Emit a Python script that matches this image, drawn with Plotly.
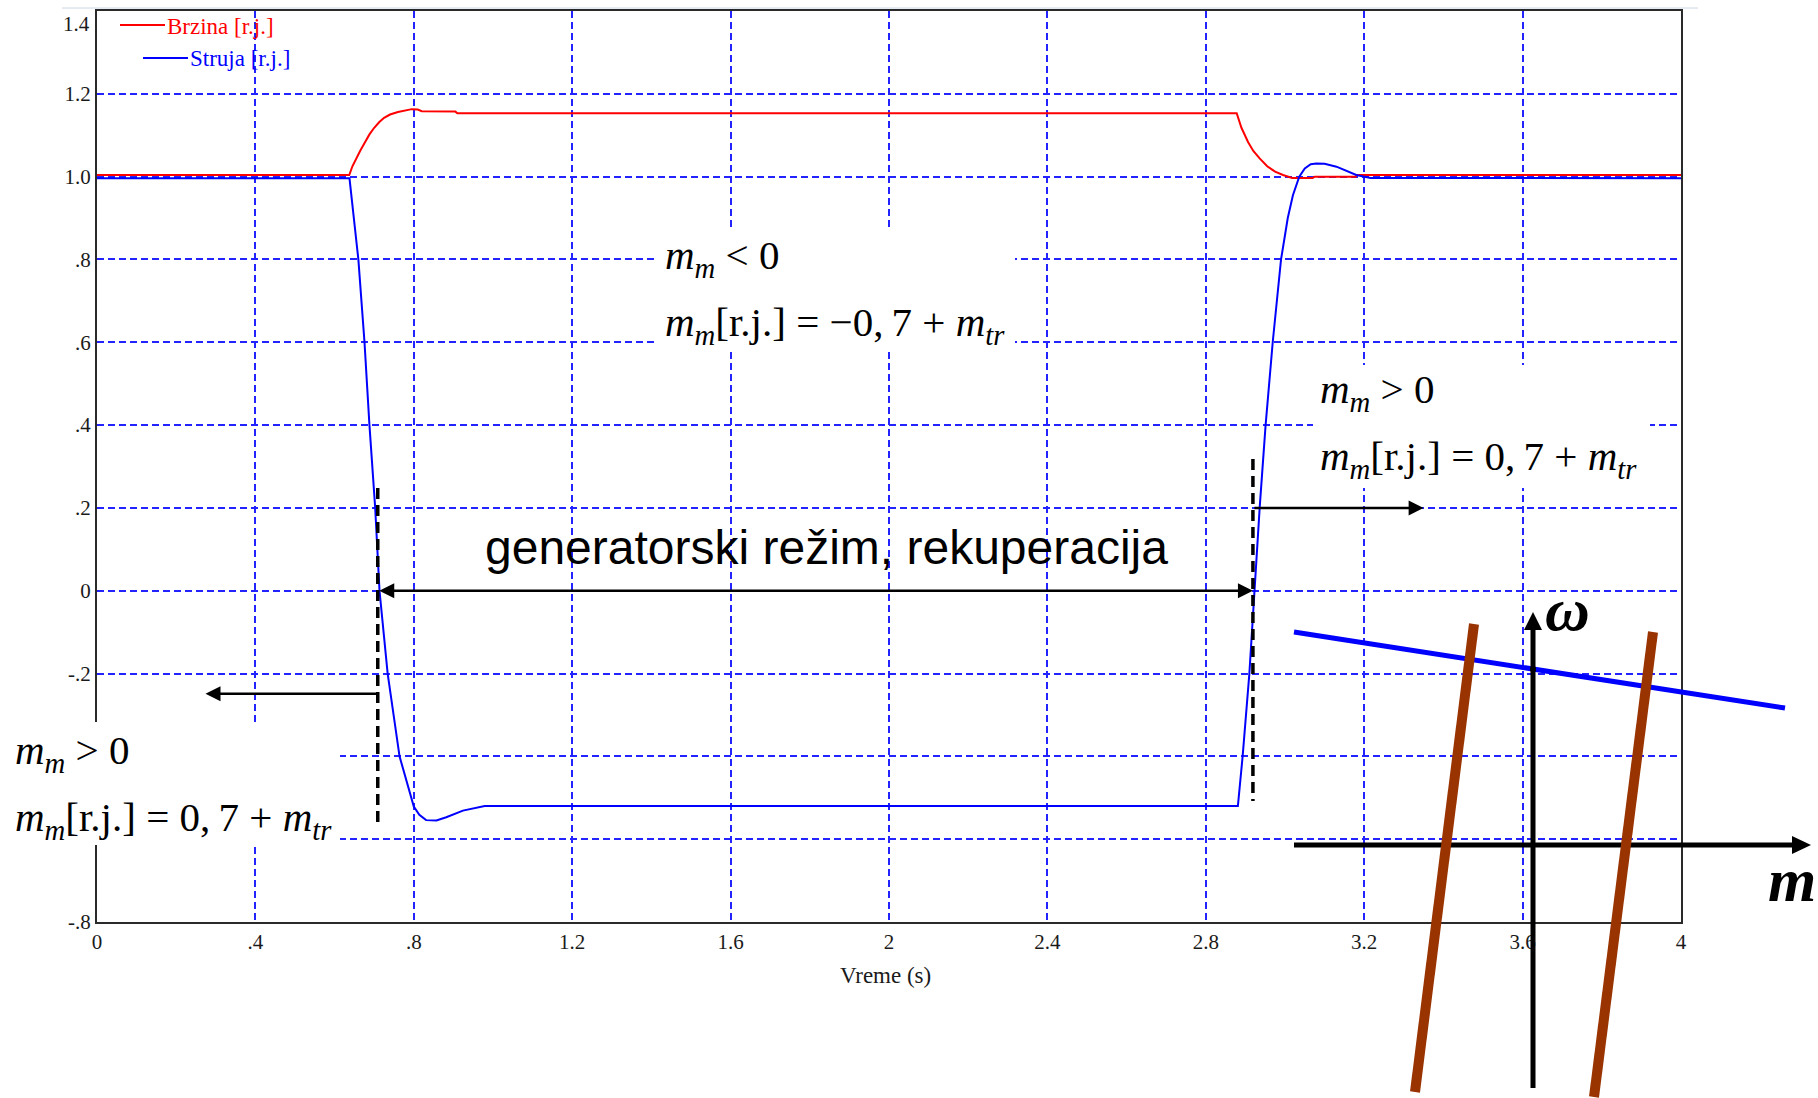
import plotly.graph_objects as go

# ---- recorded signals (per-unit) versus time in seconds ----
brzina_t = [0.0, 0.637, 0.645, 0.655, 0.665, 0.675, 0.688, 0.700, 0.713, 0.725, 0.740, 0.760,
            0.780, 0.795, 0.810, 0.820, 0.905, 0.910, 2.878, 2.890, 2.907, 2.920, 2.936, 2.955,
            2.975, 2.995, 3.018, 3.070, 3.075, 3.178, 3.182, 4.0]
brzina_v = [1.004, 1.004, 1.025, 1.045, 1.063, 1.080, 1.102, 1.118, 1.132, 1.142, 1.150, 1.156,
            1.160, 1.163, 1.162, 1.158, 1.157, 1.153, 1.153, 1.118, 1.083, 1.062, 1.044, 1.025,
            1.012, 1.004, 0.997, 0.997, 1.000, 1.000, 1.004, 1.004]

struja_t = [0.0, 0.6376, 0.660, 0.6755, 0.688, 0.7025, 0.7134, 0.734, 0.764, 0.789, 0.800,
            0.814, 0.831, 0.857, 0.882, 0.924, 0.957, 0.979, 2.881, 2.893, 2.910, 2.923, 2.936,
            2.951, 2.969, 2.990, 3.007, 3.020, 3.036, 3.050, 3.065, 3.079, 3.100, 3.130, 3.160,
            3.180, 3.216, 4.0]
struja_v = [0.996, 0.996, 0.80, 0.60, 0.40, 0.20, 0.00, -0.20, -0.40, -0.488, -0.521,
            -0.541, -0.554, -0.555, -0.547, -0.531, -0.524, -0.520, -0.520, -0.40, -0.20, 0.00, 0.20,
            0.40, 0.60, 0.80, 0.90, 0.955, 1.000, 1.020, 1.030, 1.032, 1.031, 1.024, 1.012,
            1.004, 0.997, 0.996]

series_names = ["Brzina [r.j.]", "Struja [r.j.]"]

x_ticks = [0, 0.4, 0.8, 1.2, 1.6, 2.0, 2.4, 2.8, 3.2, 3.6, 4.0]
x_tick_text = ["0", ".4", ".8", "1.2", "1.6", "2", "2.4", "2.8", "3.2", "3.6", "4"]
# the -.4 and -.6 labels sit under the white formula panel, so they stay blank
y_ticks = [-0.8, -0.6, -0.4, -0.2, 0.0, 0.2, 0.4, 0.6, 0.8, 1.0, 1.2]
y_tick_text = ["-.8", "", "", "-.2", "0", ".2", ".4", ".6", ".8", "1.0", "1.2"]
y_top_label = "1.4"

# regime boundaries and arrow targets (time in s, value in r.j.)
t_gen_start = 0.709
t_gen_end = 2.919
left_arrow_tip = 0.274
left_arrow_level = -0.249
right_arrow_tip = 3.35
right_arrow_level = 0.2
left_dash_span = (0.248, -0.57)
right_dash_span = (0.318, -0.508)

# ---- figure geometry helpers ----
W, H = 1818, 1098
ML, MR, MT, MB = 97, 137, 11, 176
PW, PH = W - ML - MR, H - MT - MB


def fx(px):
    return (px - ML) / PW


def fy(py):
    return (H - MB - py) / PH


SERIF = "Liberation Serif"
SANS = "Liberation Sans"
GRID = "rgb(35,35,255)"

fig = go.Figure()
fig.add_trace(go.Scatter(x=brzina_t, y=brzina_v, mode="lines", name=series_names[0],
                         line=dict(color="#ff0000", width=2), showlegend=False))
fig.add_trace(go.Scatter(x=struja_t, y=struja_v, mode="lines", name=series_names[1],
                         line=dict(color="#0000ff", width=2), showlegend=False))

axis_common = dict(showline=True, mirror=True, linecolor="#2a2a2a", linewidth=2,
                   showgrid=True, gridcolor=GRID, gridwidth=2, griddash="7px,4px",
                   zeroline=False, ticks="", automargin=False,
                   tickfont=dict(family=SERIF, size=21, color="#1a1a1a"))

fig.update_layout(
    width=W, height=H,
    margin=dict(l=ML, r=MR, t=MT, b=MB),
    paper_bgcolor="white", plot_bgcolor="white",
    xaxis=dict(range=[0, 4], tickvals=x_ticks, ticktext=x_tick_text, **axis_common),
    yaxis=dict(range=[-0.8, 1.4], tickvals=y_ticks, ticktext=y_tick_text, **axis_common),
)

shapes = []
annotations = []

# faint rule along the top edge of the window
shapes.append(dict(type="line", xref="paper", yref="paper", x0=fx(62), x1=fx(1698),
                   y0=fy(8), y1=fy(8), line=dict(color="#c9d6e3", width=1), layer="above"))

# white panels behind the formulas
for (x0, y0, x1, y1) in [(658, 228, 1015, 348), (1313, 365, 1650, 488), (0, 722, 340, 845)]:
    shapes.append(dict(type="rect", xref="paper", yref="paper", x0=fx(x0), x1=fx(x1),
                       y0=fy(y1), y1=fy(y0), fillcolor="white", line=dict(width=0),
                       layer="above"))

# dashed markers of the regime change
for t, (ya, yb) in [(t_gen_start, left_dash_span), (t_gen_end, right_dash_span)]:
    shapes.append(dict(type="line", xref="x", yref="y", x0=t, x1=t, y0=ya, y1=yb,
                       line=dict(color="black", width=3.5, dash="11px,6px"), layer="above"))

# inline legend
legend_rows = [(series_names[0], "#ff0000", 120, 165, 25, 27),
               (series_names[1], "#0000ff", 143, 188, 58, 58)]
for name, col, lx0, lx1, ly, ty in legend_rows:
    shapes.append(dict(type="line", xref="paper", yref="paper", x0=fx(lx0), x1=fx(lx1),
                       y0=fy(ly), y1=fy(ly), line=dict(color=col, width=2), layer="above"))
    annotations.append(dict(xref="paper", yref="paper", x=fx(lx1), y=fy(ty), text=name,
                            showarrow=False, xanchor="left", yanchor="middle",
                            font=dict(family=SERIF, size=23, color=col)))

# top value label, kept inside the frame
annotations.append(dict(xref="paper", yref="paper", x=fx(92), y=fy(24), text=y_top_label,
                        showarrow=False, xanchor="right", yanchor="middle",
                        font=dict(family=SERIF, size=21, color="#1a1a1a")))
# time axis caption
annotations.append(dict(xref="paper", yref="paper", x=fx(885), y=fy(976), text="Vreme (s)",
                        showarrow=False, xanchor="center", yanchor="middle",
                        font=dict(family=SERIF, size=23, color="#1a1a1a")))

# arrows in the data frame
arrow_style = dict(showarrow=True, text="", arrowhead=2, arrowsize=1.2, arrowwidth=2.5,
                   arrowcolor="black", axref="x", ayref="y", xref="x", yref="y", standoff=0)
annotations.append(dict(x=t_gen_end, y=0.0, ax=t_gen_start, ay=0.0, arrowside="end+start",
                        startarrowhead=2, startarrowsize=1.2, **arrow_style))
annotations.append(dict(x=left_arrow_tip, y=left_arrow_level, ax=t_gen_start,
                        ay=left_arrow_level, **arrow_style))
annotations.append(dict(x=right_arrow_tip, y=right_arrow_level, ax=t_gen_end,
                        ay=right_arrow_level, **arrow_style))

# regime caption
annotations.append(dict(xref="paper", yref="paper", x=fx(826), y=fy(548),
                        text="generatorski režim, rekuperacija", showarrow=False,
                        xanchor="center", yanchor="middle",
                        font=dict(family=SANS, size=48, color="black")))

# torque formulas
MM = "<i>m</i><sub><i>m</i></sub>"
MTR = "<i>m</i><sub><i>tr</i></sub>"
formula_rows = [
    (663, 258, MM + " &lt; 0"),
    (663, 325, MM + "[r.j.] = \u22120,\u20097 + " + MTR),
    (1318, 392, MM + " &gt; 0"),
    (1318, 459, MM + "[r.j.] = 0,\u20097 + " + MTR),
    (13, 753, MM + " &gt; 0"),
    (13, 820, MM + "[r.j.] = 0,\u20097 + " + MTR),
]
for px, py, txt in formula_rows:
    annotations.append(dict(xref="paper", yref="paper", x=fx(px), y=fy(py), text=txt,
                            showarrow=False, xanchor="left", yanchor="middle",
                            font=dict(family=SERIF, size=41, color="black")))

# ---- m–ω sketch: speed characteristic, axes and torque limits ----
def seg(x0, y0, x1, y1, col, w):
    return dict(type="line", xref="paper", yref="paper", x0=fx(x0), y0=fy(y0), x1=fx(x1),
                y1=fy(y1), line=dict(color=col, width=w), layer="above")


def tri(pts):
    d = "M " + " L ".join(f"{fx(a):.5f},{fy(b):.5f}" for a, b in pts) + " Z"
    return dict(type="path", xref="paper", yref="paper", path=d, fillcolor="black",
                line=dict(color="black", width=0), layer="above")


shapes.append(seg(1294, 632, 1785, 708, "#0000ff", 5))
shapes.append(seg(1294, 845, 1795, 845, "black", 5))
shapes.append(tri([(1811, 845), (1792, 836), (1792, 854)]))
shapes.append(seg(1533, 1088, 1533, 626, "black", 5))
shapes.append(tri([(1533, 612), (1524, 630), (1542, 630)]))
shapes.append(dict(type="circle", xref="paper", yref="paper", x0=fx(1530), x1=fx(1536),
                   y0=fy(672), y1=fy(666), fillcolor="black", line=dict(width=0),
                   layer="above"))
shapes.append(seg(1474, 624, 1415, 1092, "#993300", 10))
shapes.append(seg(1653, 632, 1594, 1097, "#993300", 10))

annotations.append(dict(xref="paper", yref="paper", x=fx(1567), y=fy(609),
                        text="<b><i>\u03c9</i></b>", showarrow=False, xanchor="center",
                        yanchor="middle", font=dict(family=SERIF, size=62, color="black")))
annotations.append(dict(xref="paper", yref="paper", x=fx(1792), y=fy(880),
                        text="<b><i>m</i></b>", showarrow=False, xanchor="center",
                        yanchor="middle", font=dict(family=SERIF, size=62, color="black")))

fig.update_layout(shapes=shapes, annotations=annotations)
fig.write_html("out.html")
